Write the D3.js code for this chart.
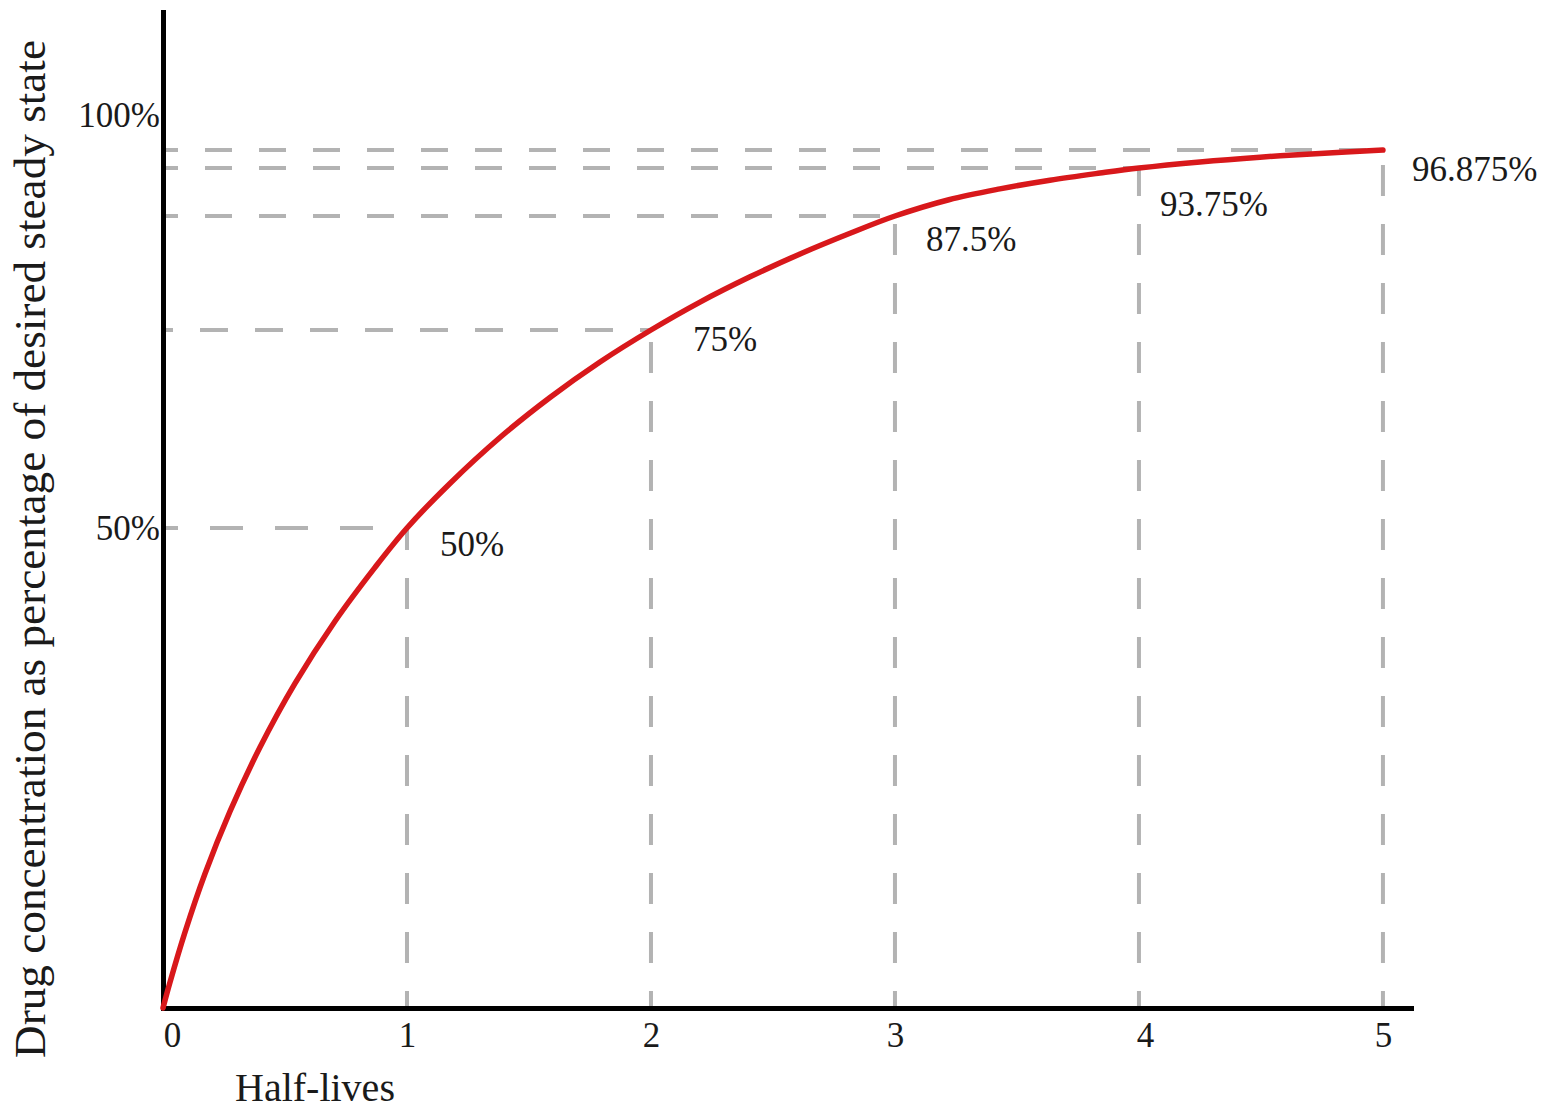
<!DOCTYPE html>
<html>
<head>
<meta charset="utf-8">
<script src="https://cdn.jsdelivr.net/npm/d3@7"></script>
<style>
  html, body { margin: 0; padding: 0; background: #fff; }
  svg { display: block; }
  text { font-family: "Liberation Serif", "DejaVu Serif", serif; fill: #1a1a1a; }
</style>
</head>
<body>
<svg id="chart" width="1545" height="1111"></svg>
<script>
// ---- data ----
const halfLives   = [0, 1, 2, 3, 4, 5];
const steadyPct   = [0, 50, 75, 87.5, 93.75, 96.875];
const pointLabels = ["", "50%", "75%", "87.5%", "93.75%", "96.875%"];

// curve samples (half-lives, % on the drawn scale)
const curveT = [0, 0.0287, 0.0902, 0.172, 0.275, 0.398, 0.541, 0.705, 0.869, 1,
                1.176, 1.381, 1.586, 1.791, 2,
                2.201, 2.406, 2.611, 2.816, 3,
                3.221, 3.430, 3.635, 3.840, 4,
                4.25, 4.496, 4.742, 5];
const curveV = [0, 2.68, 7.9, 13.98, 20.5, 27.18, 33.81, 40.29, 45.9, 50,
                55.63, 61.43, 66.48, 70.96, 75,
                78.06, 80.83, 83.34, 85.61, 87.5,
                89.62, 91.03, 92.16, 93.09, 93.75,
                94.81, 95.63, 96.28, 96.875];

const xTicks      = [0, 1, 2, 3, 4, 5];
const yTicks      = [50, 100];
const yTickLabels = ["50%", "100%"];

const xTitle = "Half-lives";
const yTitle = "Drug concentration as percentage of desired steady state";

// ---- layout / style ----
const svg = d3.select("#chart");
const W = 1545, H = 1111;
svg.append("rect").attr("width", W).attr("height", H).attr("fill", "#fff");

const x = d3.scaleLinear().domain([0, 5.115]).range([163, 1411]);
// the drawing's vertical axis is not uniform: piecewise scale through the marked levels
const y = d3.scaleLinear()
  .domain([0, 50, 75, 87.5, 93.75, 96.875, 100, 109.2])
  .range([1008, 528, 330, 216, 168, 150, 115, 12]);

const dashColor = "#b3b3b3";
const hDash = [
  { dash: "0,0", off: 0 },
  { dash: "33,32", off: 18 },
  { dash: "28,27", off: 18 },
  { dash: "27,27", off: 12 },
  { dash: "27,27", off: 12 },
  { dash: "27,27", off: 12 }
];
const labelNudge = [[0,0],[33,17],[42,10],[31,24],[21,37],[29,20]];

const pts = halfLives.map((t, i) => ({ t, v: steadyPct[i], label: pointLabels[i], i }))
  .filter(d => d.t > 0);

// horizontal dashed guides
svg.append("g").selectAll("line").data(pts).join("line")
  .attr("x1", x(0)).attr("x2", d => x(d.t))
  .attr("y1", d => y(d.v)).attr("y2", d => y(d.v))
  .attr("stroke", dashColor).attr("stroke-width", 4)
  .attr("stroke-dasharray", d => hDash[d.i].dash)
  .attr("stroke-dashoffset", d => hDash[d.i].off);

// vertical dashed guides (drawn from the axis upward)
svg.append("g").selectAll("line").data(pts).join("line")
  .attr("x1", d => x(d.t)).attr("x2", d => x(d.t))
  .attr("y1", y(0)).attr("y2", d => y(d.v))
  .attr("stroke", dashColor).attr("stroke-width", 4)
  .attr("stroke-dasharray", "31,28")
  .attr("stroke-dashoffset", 14);

// axes
const xAxis = svg.append("g").attr("transform", `translate(0,${y(0)})`)
  .call(d3.axisBottom(x).tickValues(xTicks).tickSize(0).tickSizeOuter(0).tickFormat(d3.format("d")));
xAxis.select(".domain").attr("stroke", "#000").attr("stroke-width", 5).attr("stroke-linecap", "square");
xAxis.selectAll(".tick text")
  .attr("y", 39).attr("dy", 0)
  .attr("dx", d => d === 0 ? 9 : (d === 4 ? 6 : 0))
  .style("font-size", "35px").style("font-family", "'Liberation Serif', serif").attr("fill", "#1a1a1a");

const yAxis = svg.append("g").attr("transform", `translate(${x(0)},0)`)
  .call(d3.axisLeft(y).tickValues(yTicks).tickSize(0).tickSizeOuter(0)
    .tickFormat((d, i) => yTickLabels[i]));
yAxis.select(".domain").attr("stroke", "#000").attr("stroke-width", 5).attr("stroke-linecap", "square");
yAxis.selectAll(".tick text")
  .attr("x", -3)
  .style("font-size", "35px").style("font-family", "'Liberation Serif', serif").attr("fill", "#1a1a1a");

// curve
const curveData = curveT.map((t, i) => ({ t, v: curveV[i] }));
svg.append("path").datum(curveData)
  .attr("fill", "none").attr("stroke", "#d8181b").attr("stroke-width", 5.5)
  .attr("stroke-linecap", "round")
  .attr("d", d3.line().x(d => x(d.t)).y(d => y(d.v)).curve(d3.curveCatmullRom.alpha(0.5)));

// point labels
svg.append("g").selectAll("text").data(pts).join("text")
  .attr("x", d => x(d.t) + labelNudge[d.i][0])
  .attr("y", d => y(d.v) + labelNudge[d.i][1])
  .attr("dy", "0.32em")
  .style("font-size", "35px")
  .text(d => d.label);

// axis titles
svg.append("text").attr("x", 235).attr("y", 1101)
  .style("font-size", "40px").text(xTitle);

svg.append("text")
  .attr("transform", "translate(45,549) rotate(-90)")
  .attr("text-anchor", "middle")
  .attr("textLength", 1018).attr("lengthAdjust", "spacingAndGlyphs")
  .style("font-size", "44px").text(yTitle);
</script>
</body>
</html>
